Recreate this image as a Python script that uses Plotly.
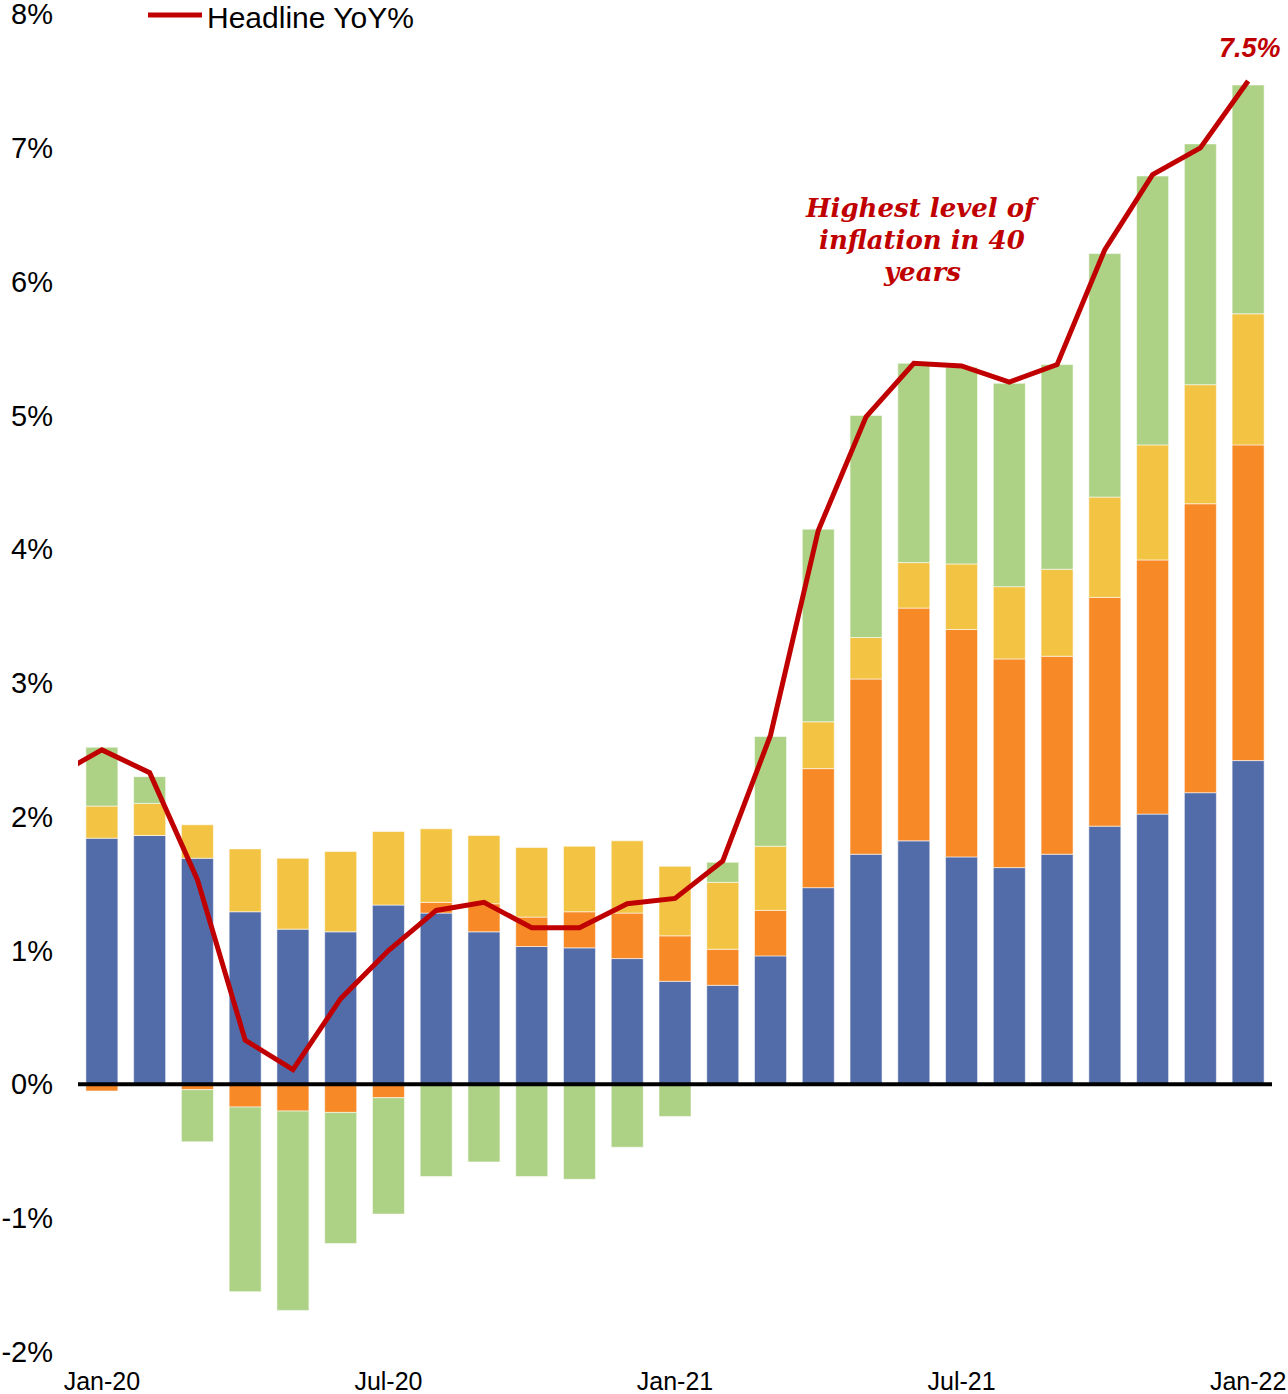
import plotly.graph_objects as go

# Categories (Dec-19 only carries the headline line that enters from the left edge)
months = ["Dec-19",
          "Jan-20", "Feb-20", "Mar-20", "Apr-20", "May-20", "Jun-20",
          "Jul-20", "Aug-20", "Sep-20", "Oct-20", "Nov-20", "Dec-20",
          "Jan-21", "Feb-21", "Mar-21", "Apr-21", "May-21", "Jun-21",
          "Jul-21", "Aug-21", "Sep-21", "Oct-21", "Nov-21", "Dec-21",
          "Jan-22"]
bar_months = months[1:]

# Contributions to YoY CPI (percentage points)
blue = [1.84, 1.86, 1.69, 1.29, 1.16, 1.14, 1.34, 1.28, 1.14, 1.03, 1.02, 0.94,
        0.77, 0.74, 0.96, 1.47, 1.72, 1.82, 1.70, 1.62, 1.72, 1.93, 2.02, 2.18, 2.42]
orange = [-0.05, 0.00, -0.04, -0.17, -0.20, -0.21, -0.10, 0.08, 0.21, 0.22, 0.27, 0.34,
          0.34, 0.27, 0.34, 0.89, 1.31, 1.74, 1.70, 1.56, 1.48, 1.71, 1.90, 2.16, 2.36]
yellow = [0.24, 0.24, 0.25, 0.47, 0.53, 0.60, 0.55, 0.55, 0.51, 0.52, 0.49, 0.54,
          0.52, 0.50, 0.48, 0.35, 0.31, 0.34, 0.49, 0.54, 0.65, 0.75, 0.86, 0.89, 0.98]
green = [0.44, 0.20, -0.39, -1.38, -1.49, -0.98, -0.87, -0.69, -0.58, -0.69, -0.71, -0.47,
         -0.24, 0.15, 0.82, 1.44, 1.66, 1.49, 1.47, 1.52, 1.53, 1.82, 2.01, 1.80, 1.71]

headline = [2.3,
            2.5, 2.33, 1.53, 0.33, 0.11, 0.64, 1.0, 1.30, 1.36, 1.17, 1.17, 1.35,
            1.39, 1.67, 2.61, 4.14, 4.99, 5.39, 5.37, 5.25, 5.38, 6.24, 6.80, 7.0,
            7.5]

tick_labels = ["Jan-20", "Jul-20", "Jan-21", "Jul-21", "Jan-22"]
y_ticks = [-2, -1, 0, 1, 2, 3, 4, 5, 6, 7, 8]
y_tick_text = [f"{v}%" for v in y_ticks]
note_lines = ["Highest level of", "inflation in 40", "years"]

C_BLUE = "#526BA9"
C_ORANGE = "#F78A27"
C_YELLOW = "#F3C344"
C_GREEN = "#ADD285"
C_RED = "#C00000"

fig = go.Figure()
edge = dict(color="rgba(255,255,255,0.55)", width=1)
for vals, col in [(blue, C_BLUE), (orange, C_ORANGE), (yellow, C_YELLOW), (green, C_GREEN)]:
    fig.add_trace(go.Bar(x=bar_months, y=vals, marker=dict(color=col, line=edge),
                         showlegend=False, hoverinfo="x+y"))

fig.add_trace(go.Scatter(x=months, y=headline, mode="lines", name="Headline YoY%",
                         line=dict(color=C_RED, width=5), showlegend=False))

# geometry helpers (plot area 78..1272 x, 14..1352 y)
PL, PR, PT, PB = 78, 1272, 14, 1352
W, H = PR - PL, PB - PT
def px(x):
    return (x - PL) / W
def py(y):
    return (PB - y) / H

# zero line
fig.add_shape(type="line", xref="paper", yref="y", x0=0, x1=1, y0=0, y1=0,
              line=dict(color="black", width=4), layer="above")

# manual legend entry
fig.add_shape(type="line", xref="paper", yref="paper", x0=px(148), x1=px(202),
              y0=py(15), y1=py(15), line=dict(color=C_RED, width=5))
fig.add_annotation(text="Headline YoY%", xref="paper", yref="paper", x=px(205), y=py(17),
                   xanchor="left", yanchor="middle", showarrow=False,
                   font=dict(family="Liberation Sans, Arial, sans-serif", size=30, color="black"))

for i, line in enumerate(note_lines):
    fig.add_annotation(text=f"<b><i>{line}</i></b>",
                       xref="paper", yref="paper", x=px(922), y=py(208 + 32 * i),
                       xanchor="center", yanchor="middle", showarrow=False,
                       font=dict(family="'DejaVu Serif', Georgia, serif", size=26, color=C_RED))

fig.add_annotation(text="<b><i>7.5%</i></b>", x="Jan-22", y=headline[-1],
                   xshift=2, yshift=33, showarrow=False, xanchor="center", yanchor="middle",
                   font=dict(family="Liberation Sans, Arial, sans-serif", size=27, color=C_RED))

fig.update_layout(
    width=1288, height=1394,
    margin=dict(l=PL, r=1288 - PR, t=PT, b=1394 - PB, autoexpand=False),
    barmode="relative", bargap=0.33,
    plot_bgcolor="white", paper_bgcolor="white",
    showlegend=False,
    xaxis=dict(type="category", categoryorder="array", categoryarray=months,
               range=[0.5, len(months) - 0.5], tickmode="array",
               tickvals=tick_labels, ticktext=tick_labels,
               showgrid=False, zeroline=False, showline=False, ticks="",
               automargin=False, ticklabelstandoff=12, ticklabeloverflow="allow",
               tickfont=dict(family="'Liberation Sans Narrow', 'Arial Narrow', 'Liberation Sans', Arial",
                             size=25, color="black")),
    yaxis=dict(range=[-2.001, 8.001], tickmode="array", tickvals=y_ticks, ticktext=y_tick_text,
               showgrid=False, zeroline=False, showline=False, ticks="",
               automargin=False, ticklabelstandoff=24, ticklabeloverflow="allow",
               tickfont=dict(family="Liberation Sans, Arial, sans-serif", size=29, color="black")),
)

fig.write_html("out.html", config={"displayModeBar": False},
               post_script="document.body.style.margin='0px';document.body.style.padding='0px';")
